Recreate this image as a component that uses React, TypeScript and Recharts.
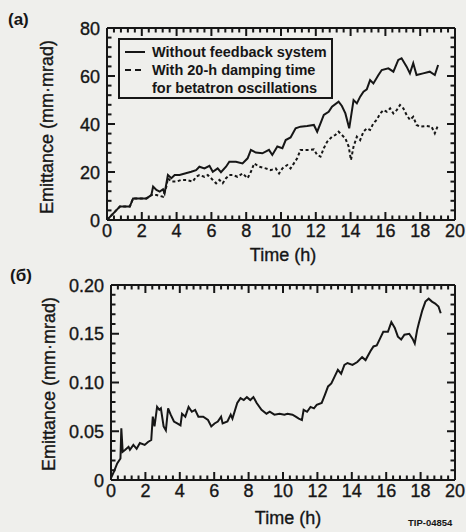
import { LineChart, Line, XAxis, YAxis, Legend } from "recharts";

// panel (a): emittance growth, mm·mrad vs hours
const timeA = [0, 0.46, 0.74, 1.31, 1.5, 2.27, 2.55, 2.65, 2.84, 3.03, 3.22, 3.31, 3.5, 3.7, 3.89, 4.17, 4.84, 5.12, 5.31, 5.6, 5.89, 6.08, 6.36, 6.55, 6.84, 7.03, 7.41, 7.79, 8.08, 8.27, 8.55, 8.93, 9.31, 9.5, 9.79, 10.08, 10.27, 10.55, 10.84, 11.12, 11.5, 11.89, 12.08, 12.27, 12.46, 12.74, 12.93, 13.31, 13.5, 13.7, 13.92, 14.17, 14.36, 14.55, 14.74, 14.93, 15.12, 15.31, 15.6, 15.79, 16.17, 16.46, 16.74, 16.93, 17.22, 17.41, 17.6, 17.79, 18.17, 18.55, 18.84, 19.03];
const withoutFeedback = [0, 3.5, 5.6, 5.6, 9.0, 9.0, 10.4, 13.9, 12.5, 11.8, 12.8, 11.1, 18.75, 17.4, 18.75, 18.75, 20.1, 20.8, 22.2, 21.5, 22.6, 20.1, 21.5, 19.9, 22.2, 24.3, 24.3, 23.6, 25.7, 29.2, 28.1, 27.8, 29.2, 27.1, 30.6, 29.9, 33.3, 34.4, 38.2, 38.9, 39.2, 39.6, 36.8, 40.3, 43.75, 45.1, 47.2, 49.3, 47.5, 44.4, 38.2, 50, 48.6, 51.4, 53.5, 54.4, 58.3, 56.9, 60.4, 62.5, 63.2, 61.8, 66.7, 67.4, 63.9, 61.1, 65.3, 60.4, 61.1, 61.8, 60.4, 64.6];

const timeDamped = [0, 0.46, 0.74, 1.31, 1.5, 2.27, 2.55, 2.84, 3.22, 3.41, 3.5, 3.7, 3.98, 4.27, 4.55, 4.93, 5.12, 5.31, 5.6, 5.79, 6.08, 6.27, 6.46, 6.65, 6.84, 7.03, 7.22, 7.5, 7.79, 8.08, 8.27, 8.46, 8.74, 9.12, 9.41, 9.7, 9.89, 10.08, 10.36, 10.55, 10.74, 10.93, 11.12, 11.41, 11.7, 11.89, 12.08, 12.27, 12.46, 12.65, 12.93, 13.12, 13.31, 13.5, 13.7, 13.89, 14.02, 14.17, 14.36, 14.55, 14.74, 14.93, 15.12, 15.31, 15.5, 15.7, 15.89, 16.08, 16.27, 16.46, 16.65, 16.84, 17.03, 17.22, 17.41, 17.6, 17.79, 17.98, 18.36, 18.65, 18.84, 19.03];
const withDamping = [0, 3.5, 5.6, 5.6, 9.0, 9.0, 10.4, 10.4, 9.7, 13.9, 17.4, 16, 16, 16.7, 16.7, 16, 18, 18.75, 18, 18.75, 16.7, 15.3, 16.7, 15.3, 17.4, 18.75, 18.75, 18, 19.4, 17.4, 20.1, 23.6, 22.2, 21.5, 20.8, 21.5, 19.4, 21.5, 22.9, 21.5, 23.6, 25.7, 29.2, 29.2, 29.2, 29.4, 27.1, 26.4, 29.9, 32.6, 34.7, 35.4, 36.8, 35.4, 34, 30.6, 25, 30.6, 34.7, 33.3, 36.8, 38.2, 37.5, 40.3, 41.7, 44.4, 45.8, 45.1, 46.5, 44.4, 45.8, 47.9, 46.5, 43.75, 41.7, 43, 39.6, 38.9, 39.2, 38.9, 36.1, 39.6];

// panel (б)
const timeB = [0, 0.17, 0.36, 0.55, 0.6, 0.68, 0.83, 1.02, 1.1, 1.3, 1.49, 1.68, 1.96, 2.15, 2.34, 2.43, 2.53, 2.68, 2.81, 2.9, 3.06, 3.19, 3.32, 3.47, 3.66, 3.85, 4.04, 4.13, 4.32, 4.51, 4.7, 4.89, 5.08, 5.36, 5.64, 5.83, 6.02, 6.21, 6.4, 6.49, 6.77, 6.96, 7.06, 7.34, 7.53, 7.72, 7.9, 8.1, 8.28, 8.47, 8.75, 9.04, 9.23, 9.5, 9.8, 10.08, 10.26, 10.55, 10.74, 10.92, 11.1, 11.2, 11.4, 11.6, 11.8, 11.96, 12.25, 12.43, 12.62, 12.81, 13.0, 13.19, 13.38, 13.57, 13.75, 14.04, 14.32, 14.6, 14.8, 15.08, 15.26, 15.45, 15.64, 15.83, 16.1, 16.3, 16.5, 16.68, 16.87, 17.06, 17.34, 17.53, 17.66, 17.8, 17.9, 18.1, 18.28, 18.47, 18.66, 18.85, 19.04, 19.17];
const emittanceB = [0.002, 0.0085, 0.017, 0.022, 0.053, 0.029, 0.031, 0.034, 0.031, 0.036, 0.032, 0.038, 0.036, 0.039, 0.041, 0.065, 0.055, 0.075, 0.072, 0.0735, 0.055, 0.051, 0.0735, 0.067, 0.06, 0.058, 0.056, 0.068, 0.065, 0.075, 0.07, 0.072, 0.065, 0.065, 0.0615, 0.055, 0.058, 0.06, 0.065, 0.058, 0.06, 0.067, 0.063, 0.079, 0.084, 0.082, 0.085, 0.082, 0.085, 0.079, 0.072, 0.068, 0.07, 0.067, 0.068, 0.067, 0.068, 0.067, 0.065, 0.063, 0.0615, 0.072, 0.07, 0.075, 0.0735, 0.077, 0.079, 0.087, 0.096, 0.099, 0.106, 0.113, 0.109, 0.118, 0.12, 0.118, 0.121, 0.126, 0.123, 0.132, 0.137, 0.138, 0.145, 0.152, 0.152, 0.162, 0.156, 0.147, 0.144, 0.149, 0.15, 0.145, 0.14, 0.154, 0.161, 0.174, 0.183, 0.186, 0.183, 0.181, 0.178, 0.171];

const xMajor = [0, 2, 4, 6, 8, 10, 12, 14, 16, 18, 20];
const yMajorA = [0, 20, 40, 60, 80];
const yMajorB = [0, 0.05, 0.1, 0.15, 0.2];

const ink = "#161616";
const paper = "#efefec";
const font = "'Liberation Sans', Arial, Helvetica, sans-serif";

function steps(step: number, max: number) {
  const out: number[] = [];
  for (let i = 0; i <= Math.round(max / step); i++) out.push(+(i * step).toFixed(4));
  return out;
}
const xTicks = steps(0.4, 20);
const yTicksA = steps(4, 80);
const yTicksB = steps(0.01, 0.2);

const rowsA = timeA.map((t, i) => ({ t, v: withoutFeedback[i] }));
const rowsDamped = timeDamped.map((t, i) => ({ t, v: withDamping[i] }));
const rowsB = timeB.map((t, i) => ({ t, v: emittanceB[i] }));

const fmtA = (v: number) => String(v);
const fmtB = (v: number) => (v === 0 ? "0" : v.toFixed(2));

// inward tick marks drawn here as small filled rects, majors longer, labels on bottom/left only
function FrameTick(props: any) {
  const { payload, side, majors, format } = props;
  const x = Number(props.x);
  const y = Number(props.y);
  const v = Number(payload.value);
  const major = majors.some((m: number) => Math.abs(m - v) < 1e-6);
  const len = major ? 8 : 4.5;
  const w = 2;
  let r = { x: x - w / 2, y: y - len, width: w, height: len };
  if (side === "top") r = { x: x - w / 2, y, width: w, height: len };
  if (side === "left") r = { x, y: y - w / 2, width: len, height: w };
  if (side === "right") r = { x: x - len, y: y - w / 2, width: len, height: w };
  const txt = { fill: ink, fontSize: 18, fontFamily: font, stroke: ink, strokeWidth: 0.35 };
  return (
    <g className="frame-tick">
      <rect {...r} fill={ink} stroke="none" />
      {major && side === "bottom" && (
        <text x={x} y={y + 17} textAnchor="middle" {...txt}>{format(v)}</text>
      )}
      {major && side === "left" && (
        <text x={x - 7} y={y + 6.5} textAnchor="end" {...txt}>{format(v)}</text>
      )}
    </g>
  );
}

function Title({ cx, cy, text, rotate }: any) {
  return (
    <text
      x={cx}
      y={cy}
      textAnchor="middle"
      dominantBaseline="central"
      transform={rotate ? `rotate(-90 ${cx} ${cy})` : undefined}
      fill={ink}
      stroke={ink}
      strokeWidth={0.35}
      fontSize={18}
      fontFamily={font}
    >
      {text}
    </text>
  );
}

function LegendBox() {
  const row = { display: "flex", alignItems: "center", height: 18 };
  return (
    <div
      style={{
        boxSizing: "border-box",
        width: 215,
        height: 61,
        border: `2px solid ${ink}`,
        padding: "3px 0 0 5px",
        background: paper,
        fontFamily: font,
        fontWeight: "bold",
        fontSize: 14.5,
        lineHeight: "18px",
        color: ink,
      }}
    >
      <div style={row}>
        <svg width={20} height={10} style={{ marginRight: 7 }}>
          <line x1={0} y1={5} x2={20} y2={5} stroke={ink} strokeWidth={2} />
        </svg>
        Without feedback system
      </div>
      <div style={row}>
        <svg width={20} height={10} style={{ marginRight: 7 }}>
          <line x1={0} y1={5} x2={20} y2={5} stroke={ink} strokeWidth={2} strokeDasharray="6 4" />
        </svg>
        With 20-h damping time
      </div>
      <div style={{ ...row, paddingLeft: 27 }}>for betatron oscillations</div>
    </div>
  );
}

const axisLine = { stroke: ink, strokeWidth: 2 };
const axisCommon = { type: "number" as const, interval: 0 as const, tickSize: 0, tickMargin: 0, tickLine: false, axisLine, allowDataOverflow: true };

export default function App() {
  return (
    <div style={{ position: "absolute", left: 0, top: 0, width: 466, height: 532, background: paper, overflow: "hidden" }}>
      <div style={{ position: "absolute", left: 8, top: 10, fontFamily: font, fontWeight: "bold", fontSize: 17, color: ink }}>(a)</div>
      <div style={{ position: "absolute", left: 10, top: 266, fontFamily: font, fontWeight: "bold", fontSize: 17, color: ink }}>(б)</div>
      <div style={{ position: "absolute", left: 408, top: 517, fontFamily: font, fontWeight: "bold", fontSize: 9.5, color: ink }}>TIP-04854</div>

      <div style={{ position: "absolute", left: 0, top: 0 }}>
        <LineChart width={466} height={270} margin={{ top: 27, right: 10, bottom: 49, left: 106 }}>
          <XAxis xAxisId={0} dataKey="t" domain={[0, 20]} ticks={xTicks} height={1} {...axisCommon}
            tick={(p: any) => <FrameTick {...p} side="bottom" majors={xMajor} format={fmtA} />}
            label={{ content: () => <Title cx={283} cy={255} text="Time (h)" /> }} />
          <XAxis xAxisId="top" orientation="top" dataKey="t" domain={[0, 20]} ticks={xTicks} height={1} {...axisCommon}
            tick={(p: any) => <FrameTick {...p} side="top" majors={xMajor} format={fmtA} />} />
          <YAxis yAxisId={0} domain={[0, 80]} ticks={yTicksA} width={1} {...axisCommon}
            tick={(p: any) => <FrameTick {...p} side="left" majors={yMajorA} format={fmtA} />}
            label={{ content: () => <Title cx={47} cy={127} text="Emittance (mm·mrad)" rotate /> }} />
          <YAxis yAxisId="right" orientation="right" domain={[0, 80]} ticks={yTicksA} width={1} {...axisCommon}
            tick={(p: any) => <FrameTick {...p} side="right" majors={yMajorA} format={fmtA} />} />
          <Legend layout="vertical" align="center" verticalAlign="middle" content={() => <LegendBox />}
            wrapperStyle={{ position: "absolute", left: 118, top: 38, width: 215, height: 61 }} />
          <Line data={rowsA} dataKey="v" name="Without feedback system" type="linear" stroke={ink} strokeWidth={2}
            dot={false} isAnimationActive={false} />
          <Line data={rowsDamped} dataKey="v" name="With 20-h damping time for betatron oscillations" type="linear"
            stroke={ink} strokeWidth={2} strokeDasharray="3 2.5" dot={false} isAnimationActive={false} />
        </LineChart>
      </div>

      <div style={{ position: "absolute", left: 0, top: 270 }}>
        <LineChart width={466} height={262} margin={{ top: 14, right: 10, bottom: 51, left: 110 }}>
          <XAxis xAxisId={0} dataKey="t" domain={[0, 20]} ticks={xTicks} height={1} {...axisCommon}
            tick={(p: any) => <FrameTick {...p} side="bottom" majors={xMajor} format={fmtA} />}
            label={{ content: () => <Title cx={288} cy={248} text="Time (h)" /> }} />
          <XAxis xAxisId="top" orientation="top" dataKey="t" domain={[0, 20]} ticks={xTicks} height={1} {...axisCommon}
            tick={(p: any) => <FrameTick {...p} side="top" majors={xMajor} format={fmtA} />} />
          <YAxis yAxisId={0} domain={[0, 0.2]} ticks={yTicksB} width={1} {...axisCommon}
            tick={(p: any) => <FrameTick {...p} side="left" majors={yMajorB} format={fmtB} />}
            label={{ content: () => <Title cx={49} cy={114} text="Emittance (mm·mrad)" rotate /> }} />
          <YAxis yAxisId="right" orientation="right" domain={[0, 0.2]} ticks={yTicksB} width={1} {...axisCommon}
            tick={(p: any) => <FrameTick {...p} side="right" majors={yMajorB} format={fmtB} />} />
          <Line data={rowsB} dataKey="v" type="linear" stroke={ink} strokeWidth={2}
            dot={false} isAnimationActive={false} />
        </LineChart>
      </div>
    </div>
  );
}
